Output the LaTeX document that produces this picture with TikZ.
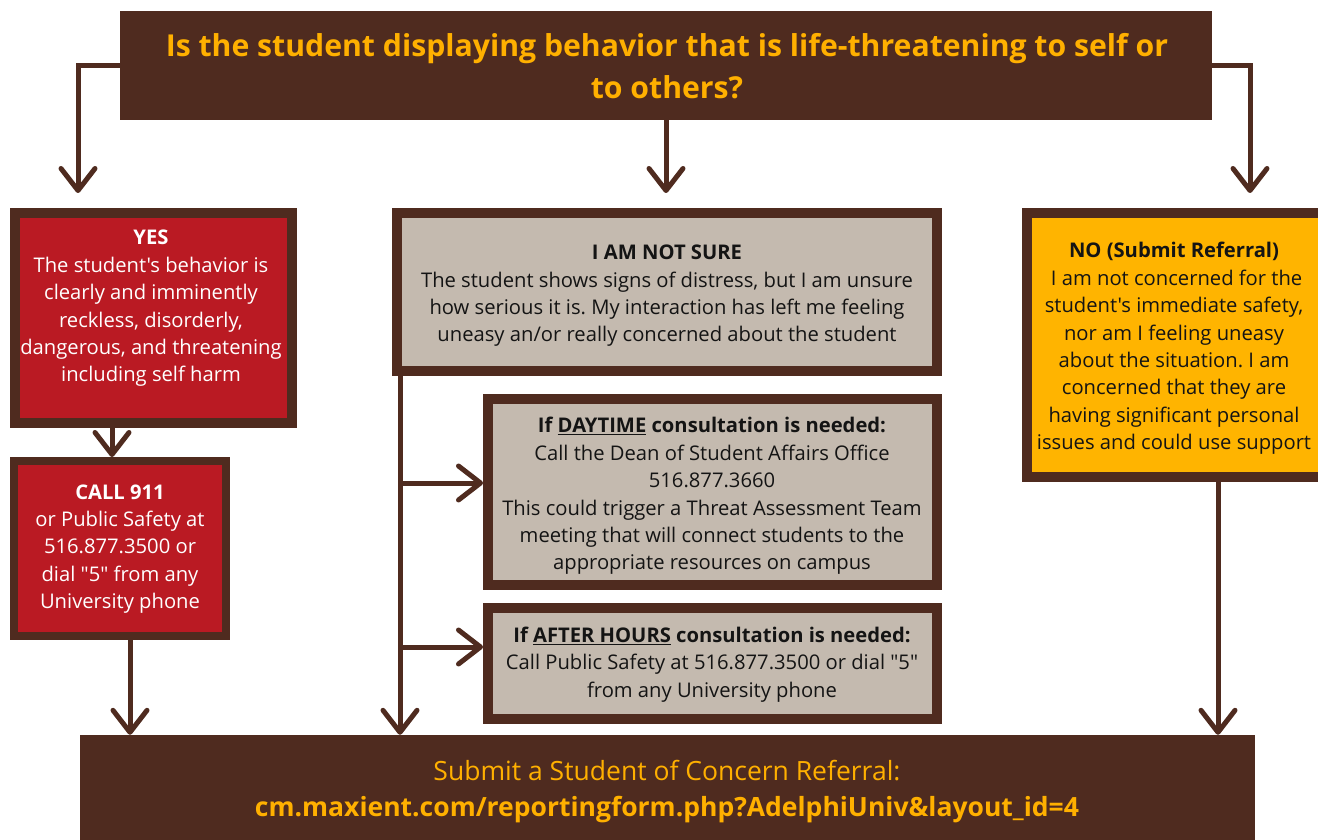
\documentclass[tikz,border=0pt]{standalone}
\usepackage{fontspec}
\setmainfont{Open Sans}[Ligatures=TeXOff]
\usetikzlibrary{arrows.meta}
\frenchspacing
\definecolor{brn}{RGB}{79,43,31}
\definecolor{redf}{RGB}{186,26,35}
\definecolor{greyf}{RGB}{196,186,175}
\definecolor{orng}{RGB}{255,176,0}
\definecolor{yelf}{RGB}{255,180,0}
\definecolor{txtk}{RGB}{20,20,20}
\tikzset{
  arr/.style={draw=brn, line width=5pt, -{Straight Barb[length=22pt,width=34pt,round]}},
  boxb/.style={draw=brn, line width=#1, inner sep=0pt},
  fillbox/.style={fill=brn, draw=none, inner sep=0pt},
  body/.style={align=center, inner sep=0pt, font=\fontsize{20.2}{27.4}\selectfont\frenchspacing},
}
\begin{document}
\begin{tikzpicture}[x=1pt,y=-1pt]
\useasboundingbox (0,0) rectangle (1318,840);
% boxes
\node[fillbox, minimum width=1092pt, minimum height=109pt] (q) at (666,65.5) {};
\node[boxb=10pt, fill=redf, minimum width=277pt, minimum height=210pt] (yes) at (153.5,318) {};
\node[boxb=8pt, fill=redf, minimum width=212pt, minimum height=175pt] (call) at (120,548.5) {};
\node[boxb=10pt, fill=greyf, minimum width=540pt, minimum height=158pt] (ns) at (667,292) {};
\node[boxb=10pt, fill=greyf, minimum width=449pt, minimum height=186pt] (day) at (712.5,492) {};
\node[boxb=10pt, fill=greyf, minimum width=449pt, minimum height=111pt] (aft) at (712.5,663.5) {};
\node[boxb=10pt, fill=yelf, minimum width=296pt, minimum height=264pt] (no) at (1175,345) {};
\node[fillbox, minimum width=1175pt, minimum height=125pt] (bot) at (667.5,797.5) {};
% texts
\node[align=center, inner sep=0pt, text=orng, font=\fontsize{30.2}{42}\selectfont\bfseries] (qt) at (667,66)
  {Is the student displaying behavior that is life-threatening to self or\\to others?};
\node[body, text=white] (yest) at (151,308.5)
  {\textbf{YES}\\The student's behavior is\\clearly and imminently\\reckless, disorderly,\\dangerous, and threatening\\including self harm};
\node[body, text=white] (callt) at (120,549)
  {\textbf{CALL 911}\\or Public Safety at\\516.877.3500 or\\dial "5" from any\\University phone};
\node[body, text=txtk] (nst) at (667,296)
  {\textbf{I AM NOT SURE}\\The student shows signs of distress, but I am unsure\\how serious it is. My interaction has left me feeling\\uneasy an/or really concerned about the student};
\node[body, text=txtk] (dayt) at (712,496)
  {\textbf{If \underline{DAYTIME} consultation is needed:}\\Call the Dean of Student Affairs Office\\516.877.3660\\This could trigger a Threat Assessment Team\\meeting that will connect students to the\\appropriate resources on campus};
\node[body, text=txtk] (aftt) at (712,664.5)
  {\textbf{If \underline{AFTER HOURS} consultation is needed:}\\Call Public Safety at 516.877.3500 or dial "5"\\from any University phone};
\node[body, text=txtk] (not) at (1174,348.5)
  {\textbf{NO (Submit Referral)}\\\ I am not concerned for the\\student's immediate safety,\\nor am I feeling uneasy\\about the situation. I am\\concerned that they are\\having significant personal\\issues and could use support};
\node[align=center, inner sep=0pt, text=orng, font=\fontsize{26.5}{36}\selectfont] (bott) at (667,792)
  {Submit a Student of Concern Referral:\\\textbf{cm.maxient.com/reportingform.php?AdelphiUniv\&layout\_id=4}};
% connectors
\coordinate (a1) at (78,193);
\coordinate (a2) at (666,193);
\coordinate (a3) at (1250,193);
\draw[arr] (q.west) -| (a1);
\draw[arr] (q.south) -- (a2);
\draw[arr] (q.east) -| (a3);
\draw[arr] ([xshift=-41.5pt]yes.south) -- ([xshift=-41.5pt]yes.south |- call.north);
\draw[arr] ([xshift=10pt]call.south) -- ([xshift=10pt]call.south |- bot.north);
\coordinate (v0) at ([xshift=8pt]ns.south west);
\draw[arr] (v0) -- (v0 |- bot.north);
\coordinate (j1) at (400,483);
\coordinate (j2) at (400,647);
\draw[arr] (j1) -- (j1 -| day.west);
\draw[arr] (j2) -- (j2 -| aft.west);
\draw[arr] ([xshift=43pt]no.south) -- ([xshift=43pt]no.south |- bot.north);
\end{tikzpicture}
\end{document}
